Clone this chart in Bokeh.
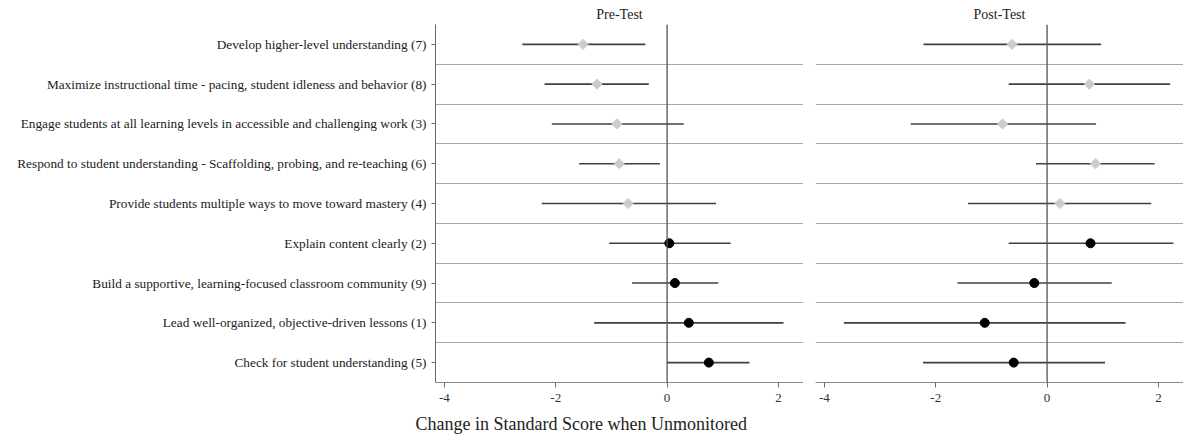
import math
from bokeh.plotting import figure
from bokeh.layouts import row
from bokeh.models import Range1d, FixedTicker, Span, Title, ColumnDataSource
from bokeh.embed import file_html
from bokeh.resources import INLINE

categories = [
    "Develop higher-level understanding (7)",
    "Maximize instructional time - pacing, student idleness and behavior (8)",
    "Engage students at all learning levels in accessible and challenging work (3)",
    "Respond to student understanding - Scaffolding, probing, and re-teaching (6)",
    "Provide students multiple ways to move toward mastery (4)",
    "Explain content clearly (2)",
    "Build a supportive, learning-focused classroom community (9)",
    "Lead well-organized, objective-driven lessons (1)",
    "Check for student understanding (5)",
]
group = ["grey", "grey", "grey", "grey", "grey", "black", "black", "black", "black"]

pre_est = [-1.51, -1.26, -0.90, -0.86, -0.70, 0.04, 0.14, 0.39, 0.75]
pre_lo = [-2.60, -2.20, -2.07, -1.58, -2.25, -1.04, -0.63, -1.31, 0.00]
pre_hi = [-0.39, -0.33, 0.30, -0.13, 0.88, 1.14, 0.92, 2.09, 1.48]

post_est = [-0.63, 0.76, -0.80, 0.87, 0.23, 0.78, -0.23, -1.12, -0.60]
post_lo = [-2.22, -0.69, -2.45, -0.20, -1.42, -0.69, -1.61, -3.65, -2.23]
post_hi = [0.97, 2.21, 0.88, 1.93, 1.87, 2.27, 1.16, 1.41, 1.04]

panel_titles = ["Pre-Test", "Post-Test"]
x_ticks = [-4, -2, 0, 2]
x_tick_labels = ["-4", "-2", "0", "2"]
x_title = "Change in Standard Score when Unmonitored"

FONT = "Liberation Serif"
XR = (-4.16, 2.45)
ypos = list(range(1, len(categories) + 1))
FRAME_W = 368
H = 440


def make_panel(title, est, lo, hi, left):
    kw = dict(
        output_backend="svg", toolbar_location=None,
        x_range=Range1d(*XR), y_range=Range1d(len(categories) + 0.5, 0.5),
        height=H, min_border_top=24, min_border_bottom=58,
        min_border_right=0,
    )
    if left:
        kw.update(width=FRAME_W + 435, min_border_left=435)
    else:
        kw.update(width=FRAME_W + 12, min_border_left=12, y_axis_location=None)
    p = figure(**kw)
    p.outline_line_color = None
    p.background_fill_color = "white"
    p.border_fill_color = "white"
    p.title.visible = False
    p.add_layout(Title(text=title, align="center", text_font=FONT, text_font_size="14px",
                       text_font_style="normal", text_color="#222222", standoff=5), "above")

    p.xgrid.visible = False
    p.ygrid.ticker = FixedTicker(ticks=[i + 0.5 for i in ypos[:-1]])
    p.ygrid.grid_line_color = "#a6a6a6"
    p.ygrid.grid_line_width = 1

    xa = p.xaxis[0]
    xa.ticker = FixedTicker(ticks=x_ticks)
    xa.major_label_overrides = {t: s for t, s in zip(x_ticks, x_tick_labels)}
    xa.minor_tick_line_color = None
    xa.major_tick_in = 0
    xa.major_tick_out = 5
    xa.axis_line_color = "#8a8a8a"
    xa.major_tick_line_color = "#6a6a6a"
    xa.major_label_text_font = FONT
    xa.major_label_text_font_size = "13px"
    xa.major_label_text_color = "#333333"
    xa.major_label_standoff = 6

    if left:
        ya = p.yaxis[0]
        ya.ticker = FixedTicker(ticks=ypos)
        ya.major_label_overrides = {y: c for y, c in zip(ypos, categories)}
        ya.minor_tick_line_color = None
        ya.major_tick_in = 0
        ya.major_tick_out = 4
        ya.axis_line_color = "#6a6a6a"
        ya.major_tick_line_color = "#6a6a6a"
        ya.major_label_text_font = FONT
        ya.major_label_text_font_size = "13.3px"
        ya.major_label_text_color = "#222222"
        ya.major_label_standoff = 5

    p.add_layout(Span(location=0, dimension="height", line_color="#555555", line_width=1.3))

    src = ColumnDataSource(dict(y=ypos, est=est, lo=lo, hi=hi, g=group))
    p.segment(x0="lo", x1="hi", y0="y", y1="y", source=src, line_color="#404040", line_width=1.6)

    gi = [i for i, g in enumerate(group) if g == "grey"]
    bi = [i for i, g in enumerate(group) if g == "black"]
    p.scatter([est[i] for i in gi], [ypos[i] for i in gi], marker="square", angle=math.pi / 4,
              size=7.2, fill_color="#cccccc", line_color="#cccccc")
    p.scatter([est[i] for i in bi], [ypos[i] for i in bi], marker="circle",
              size=9, fill_color="black", line_color="black")
    return p


p1 = make_panel(panel_titles[0], pre_est, pre_lo, pre_hi, True)
p2 = make_panel(panel_titles[1], post_est, post_lo, post_hi, False)

p1.add_layout(Title(text=x_title, align="left", offset=-20, text_font=FONT,
                    text_font_size="18px", text_font_style="normal",
                    text_color="#222222", standoff=14), "below")

layout = row(p1, p2, spacing=0)
open("out.html", "w").write(file_html(layout, INLINE))
